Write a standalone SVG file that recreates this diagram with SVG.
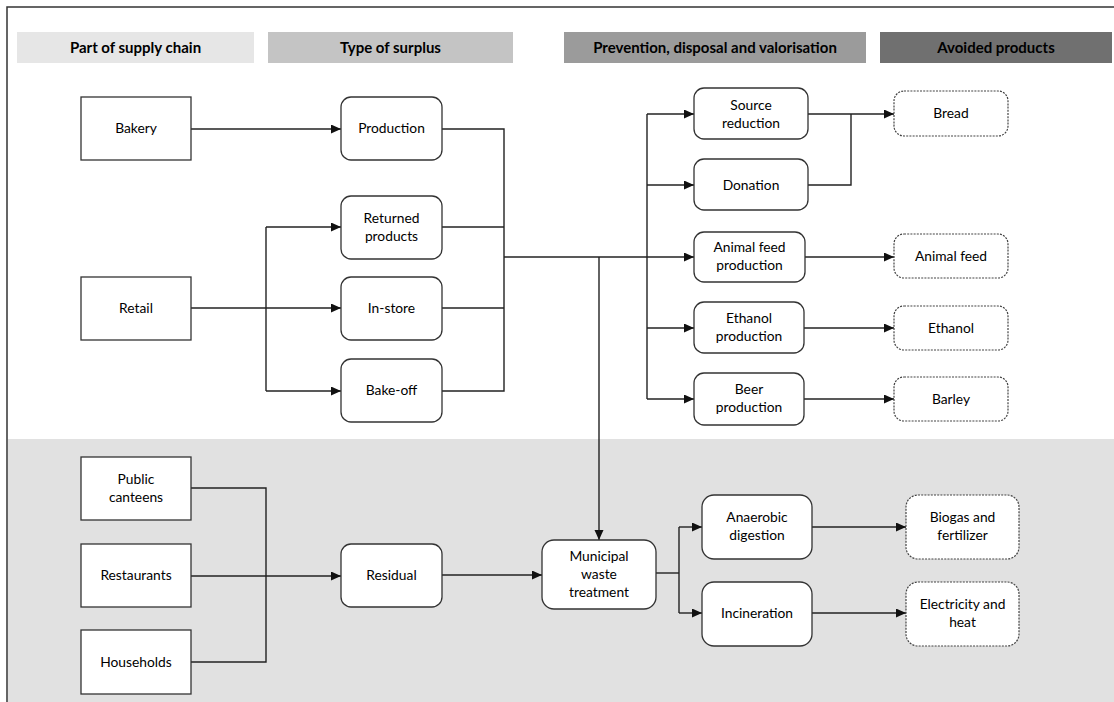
<svg xmlns="http://www.w3.org/2000/svg" width="1114" height="702" viewBox="0 0 1114 702">
  <style>
    .hdr { font-family: Lato, "Liberation Sans", sans-serif; font-size: 15px; font-weight: bold; fill: #000; text-anchor: middle; }
    .lbl { font-family: Lato, "Liberation Sans", sans-serif; font-size: 13.8px; fill: #000; text-anchor: middle; }
    .box { fill: #fff; stroke: #333; stroke-width: 1.3; }
    .dot { fill: #fff; stroke: #444; stroke-width: 1.2; stroke-dasharray: 2 1.2; }
    .ln { fill: none; stroke: #222; stroke-width: 1.4; }
    .arr { marker-end: url(#ah); }
  </style>
  <defs>
    <marker id="ah" markerUnits="userSpaceOnUse" markerWidth="11" markerHeight="10" refX="10" refY="4.5" orient="auto">
      <path d="M0,0 L10,4.5 L0,9 z" fill="#111"/>
    </marker>
  </defs>

  <!-- background, frame and lower shaded zone -->
  <rect x="0" y="0" width="1114" height="702" fill="#fff"/>
  <rect x="8" y="439" width="1106" height="263" fill="#e1e1e1"/>
  <path d="M7,702 V7 H1114" fill="none" stroke="#333" stroke-width="1.5"/>

  <!-- column headers -->
  <g id="headers">
    <rect x="17" y="32" width="237" height="31" fill="#e6e6e6"/>
    <text class="hdr" x="135.5" y="53">Part of supply chain</text>
    <rect x="268" y="32" width="245" height="31" fill="#c4c4c4"/>
    <text class="hdr" x="390.5" y="53">Type of surplus</text>
    <rect x="564" y="32" width="302" height="31" fill="#9b9b9b"/>
    <text class="hdr" x="715" y="53">Prevention, disposal and valorisation</text>
    <rect x="880" y="32" width="232" height="31" fill="#707070"/>
    <text class="hdr" x="996" y="53">Avoided products</text>
  </g>

  <!-- connectors -->
  <g id="connectors">
    <path class="ln arr" d="M191,129 H341"/>
    <path class="ln arr" d="M191,308 H341"/>
    <path class="ln" d="M266,227 V391"/>
    <path class="ln arr" d="M266,227 H341"/>
    <path class="ln arr" d="M266,391 H341"/>
    <path class="ln" d="M442,129 H504 V391 H442"/>
    <path class="ln" d="M442,227 H504"/>
    <path class="ln" d="M442,308 H504"/>
    <path class="ln arr" d="M504,257 H694"/>
    <path class="ln" d="M647,114 V399"/>
    <path class="ln arr" d="M647,114 H694"/>
    <path class="ln arr" d="M647,185 H694"/>
    <path class="ln arr" d="M647,328 H694"/>
    <path class="ln arr" d="M647,399 H694"/>
    <path class="ln arr" d="M599,257 V540"/>
    <path class="ln arr" d="M808,114 H894"/>
    <path class="ln" d="M808,185 H851 V114"/>
    <path class="ln arr" d="M805,257 H894"/>
    <path class="ln arr" d="M804,328 H894"/>
    <path class="ln arr" d="M804,399 H894"/>
    <path class="ln" d="M191,488 H266 V662 H191"/>
    <path class="ln arr" d="M191,576 H341"/>
    <path class="ln arr" d="M442,575 H542"/>
    <path class="ln" d="M656,573 H679"/>
    <path class="ln" d="M679,527 V613"/>
    <path class="ln arr" d="M679,527 H702"/>
    <path class="ln arr" d="M679,613 H702"/>
    <path class="ln arr" d="M812,527 H906"/>
    <path class="ln arr" d="M812,613 H906"/>
  </g>

  <!-- supply chain -->
  <g id="bakery"><rect class="box" x="81" y="97" width="110" height="63"/><text class="lbl" x="136" y="133">Bakery</text></g>
  <g id="retail"><rect class="box" x="81" y="277" width="110" height="63"/><text class="lbl" x="136" y="313">Retail</text></g>
  <g id="public-canteens"><rect class="box" x="81" y="457" width="110" height="63"/><text class="lbl" x="136" y="484">Public</text><text class="lbl" x="136" y="502">canteens</text></g>
  <g id="restaurants"><rect class="box" x="81" y="544" width="110" height="63"/><text class="lbl" x="136" y="580">Restaurants</text></g>
  <g id="households"><rect class="box" x="81" y="630" width="110" height="64"/><text class="lbl" x="136" y="667">Households</text></g>

  <!-- type of surplus -->
  <g id="production"><rect class="box" x="341" y="97" width="101" height="63" rx="10"/><text class="lbl" x="391.5" y="133">Production</text></g>
  <g id="returned-products"><rect class="box" x="341" y="196" width="101" height="63" rx="10"/><text class="lbl" x="391.5" y="223">Returned</text><text class="lbl" x="391.5" y="241">products</text></g>
  <g id="in-store"><rect class="box" x="341" y="277" width="101" height="63" rx="10"/><text class="lbl" x="391.5" y="313">In-store</text></g>
  <g id="bake-off"><rect class="box" x="341" y="359" width="101" height="63" rx="10"/><text class="lbl" x="391.5" y="395">Bake-off</text></g>
  <g id="residual"><rect class="box" x="341" y="544" width="101" height="63" rx="10"/><text class="lbl" x="391.5" y="580">Residual</text></g>

  <!-- prevention, disposal and valorisation -->
  <g id="source-reduction"><rect class="box" x="694" y="88" width="114" height="51" rx="10"/><text class="lbl" x="751" y="110">Source</text><text class="lbl" x="751" y="128">reduction</text></g>
  <g id="donation"><rect class="box" x="694" y="159" width="114" height="51" rx="10"/><text class="lbl" x="751" y="190">Donation</text></g>
  <g id="animal-feed-production"><rect class="box" x="694" y="232" width="111" height="50" rx="10"/><text class="lbl" x="749.5" y="252">Animal feed</text><text class="lbl" x="749.5" y="270">production</text></g>
  <g id="ethanol-production"><rect class="box" x="694" y="302" width="110" height="51" rx="10"/><text class="lbl" x="749" y="323">Ethanol</text><text class="lbl" x="749" y="341">production</text></g>
  <g id="beer-production"><rect class="box" x="694" y="373" width="110" height="52" rx="10"/><text class="lbl" x="749" y="394">Beer</text><text class="lbl" x="749" y="412">production</text></g>
  <g id="municipal-waste-treatment"><rect class="box" x="542" y="540" width="114" height="69" rx="12"/><text class="lbl" x="599" y="561">Municipal</text><text class="lbl" x="599" y="579">waste</text><text class="lbl" x="599" y="597">treatment</text></g>
  <g id="anaerobic-digestion"><rect class="box" x="702" y="495" width="110" height="64" rx="12"/><text class="lbl" x="757" y="522">Anaerobic</text><text class="lbl" x="757" y="540">digestion</text></g>
  <g id="incineration"><rect class="box" x="702" y="582" width="110" height="64" rx="12"/><text class="lbl" x="757" y="618">Incineration</text></g>

  <!-- avoided products -->
  <g id="bread"><rect class="dot" x="894" y="91" width="114" height="45" rx="10"/><text class="lbl" x="951" y="118">Bread</text></g>
  <g id="animal-feed"><rect class="dot" x="894" y="234" width="114" height="44" rx="10"/><text class="lbl" x="951" y="261">Animal feed</text></g>
  <g id="ethanol"><rect class="dot" x="894" y="306" width="114" height="44" rx="10"/><text class="lbl" x="951" y="333">Ethanol</text></g>
  <g id="barley"><rect class="dot" x="894" y="377" width="114" height="44" rx="10"/><text class="lbl" x="951" y="404">Barley</text></g>
  <g id="biogas-and-fertilizer"><rect class="dot" x="906" y="495" width="113" height="64" rx="12"/><text class="lbl" x="962.5" y="522">Biogas and</text><text class="lbl" x="962.5" y="540">fertilizer</text></g>
  <g id="electricity-and-heat"><rect class="dot" x="906" y="582" width="113" height="64" rx="12"/><text class="lbl" x="962.5" y="609">Electricity and</text><text class="lbl" x="962.5" y="627">heat</text></g>
</svg>
